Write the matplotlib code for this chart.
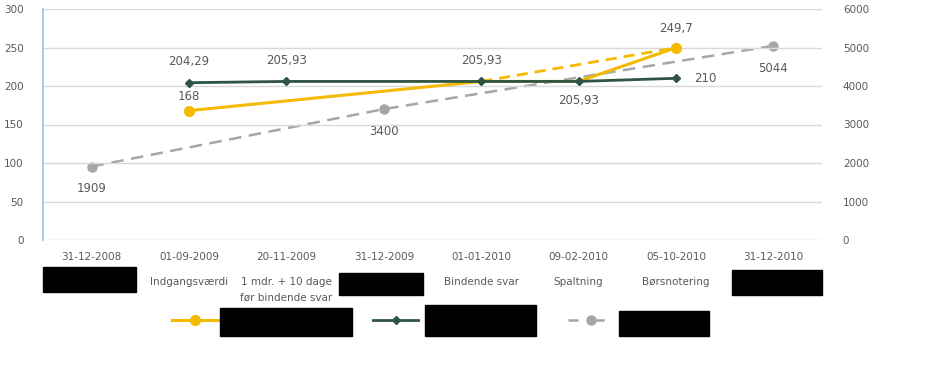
import numpy as np
import matplotlib.pyplot as plt
from matplotlib.patches import Rectangle
from matplotlib.lines import Line2D

categories = ["31-12-2008", "01-09-2009", "20-11-2009", "31-12-2009",
              "01-01-2010", "09-02-2010", "05-10-2010", "31-12-2010"]
events = ["", "Indgangsværdi", "1 mdr. + 10 dage\nfør bindende svar", "",
          "Bindende svar", "Spaltning", "Børsnotering", ""]

nan = np.nan
yellow = [nan, 168, nan, nan, 205.93, 205.93, 249.7, nan]
yellow_dash = [nan, nan, nan, nan, 205.93, nan, 249.7, nan]
green = [nan, 204.29, 205.93, nan, 205.93, 205.93, 210, nan]
gray = [1909, nan, nan, 3400, nan, nan, nan, 5044]

YELLOW = "#F5BA00"
GREEN = "#2E5443"
GRAY = "#A6A6A6"
TXT = "#595959"

plt.rcParams["font.family"] = ["DejaVu Sans"]

fig = plt.figure(figsize=(9.27, 3.69), dpi=100)
ax = fig.add_axes([43 / 927, 1 - 240 / 369, (822 - 43) / 927, 231 / 369])
ax2 = ax.twinx()


def pts(vals):
    x = np.arange(len(vals))
    v = np.array(vals, dtype=float)
    m = ~np.isnan(v)
    return x[m], v[m]


x, y = pts(gray)
ax2.plot(x, y, color=GRAY, lw=1.8, ls=(0, (5, 3)), marker="o", ms=6.5, zorder=2)
for xi, yi in zip(x, y):
    ax2.annotate(f"{yi:.0f}", (xi, yi), xytext=(0, -16), textcoords="offset points",
                 ha="center", va="center", fontsize=8.5, color=TXT)

ax.set_zorder(ax2.get_zorder() + 1)
ax.patch.set_visible(False)

x, y = pts(yellow_dash)
ax.plot(x, y, color=YELLOW, lw=2, ls=(0, (4, 2.5)), zorder=3)

x, y = pts(yellow)
ax.plot(x, y, color=YELLOW, lw=2.2, marker="o", ms=7, markevery=[0, len(x) - 1], zorder=4)
ax.annotate("168", (x[0], y[0]), xytext=(0, 10), textcoords="offset points",
            ha="center", va="center", fontsize=8.5, color=TXT)
ax.annotate("249,7", (x[-1], y[-1]), xytext=(0, 14), textcoords="offset points",
            ha="center", va="center", fontsize=8.5, color=TXT)

x, y = pts(green)
ax.plot(x, y, color=GREEN, lw=2, marker="D", ms=4.5, zorder=5)
offsets = [(0, 15), (0, 15), (0, 15), (0, -14), (21, 0)]
for (xi, yi), off in zip(zip(x, y), offsets):
    ax.annotate(f"{yi:g}".replace(".", ","), (xi, yi), xytext=off, textcoords="offset points",
                ha="center", va="center", fontsize=8.5, color=TXT)

ax.set_xlim(-0.5, 7.5)
ax.set_ylim(0, 300)
ax.set_yticks(np.arange(0, 301, 50))
ax2.set_ylim(0, 6000)
ax2.set_yticks(np.arange(0, 6001, 1000))

ax.set_xticks(range(len(categories)))
ax.set_xticklabels(categories)
ax.grid(axis="y", color="#D9D9D9", lw=1)
ax.set_axisbelow(True)

for a in (ax, ax2):
    for s in a.spines.values():
        s.set_visible(False)
ax.spines["left"].set_visible(True)
ax.spines["left"].set_color("#9DC3E6")
ax.spines["left"].set_linewidth(1.2)

ax.tick_params(axis="y", length=0, labelsize=7.5, labelcolor=TXT, pad=14)
ax.tick_params(axis="x", length=0, labelsize=7.5, labelcolor=TXT, pad=9)
ax2.tick_params(axis="y", length=0, labelsize=7.5, labelcolor=TXT, pad=15)

for i, ev in enumerate(events):
    if ev:
        ax.text(i, -0.16, ev, transform=ax.get_xaxis_transform(), ha="center", va="top",
                fontsize=7.5, color=TXT, linespacing=1.7)

# redacted labels
W, H = 927, 369
for (x0, y0, x1, y1) in [(43, 267, 136, 292), (339, 273, 423, 295), (732, 270, 822, 295),
                         (220, 308, 352, 336), (425, 305, 536, 336), (619, 311, 709, 336)]:
    fig.add_artist(Rectangle((x0 / W, 1 - y1 / H), (x1 - x0) / W, (y1 - y0) / H,
                             transform=fig.transFigure, color="black", zorder=10))

# legend handles
ly = 1 - 320 / H
fig.add_artist(Line2D([172 / W, 218 / W], [ly, ly], color=YELLOW, lw=2.2,
                      transform=fig.transFigure))
fig.add_artist(Line2D([195 / W], [ly], color=YELLOW, marker="o", ms=7, transform=fig.transFigure))
fig.add_artist(Line2D([373 / W, 418 / W], [ly, ly], color=GREEN, lw=2, transform=fig.transFigure))
fig.add_artist(Line2D([395.5 / W], [ly], color=GREEN, marker="D", ms=4.5, transform=fig.transFigure))
fig.add_artist(Line2D([568 / W, 614 / W], [ly, ly], color=GRAY, lw=1.8, ls=(0, (4, 6.5)),
                      transform=fig.transFigure))
fig.add_artist(Line2D([591 / W], [ly], color=GRAY, marker="o", ms=6.5, transform=fig.transFigure))

fig.savefig("out.png", dpi=100)
